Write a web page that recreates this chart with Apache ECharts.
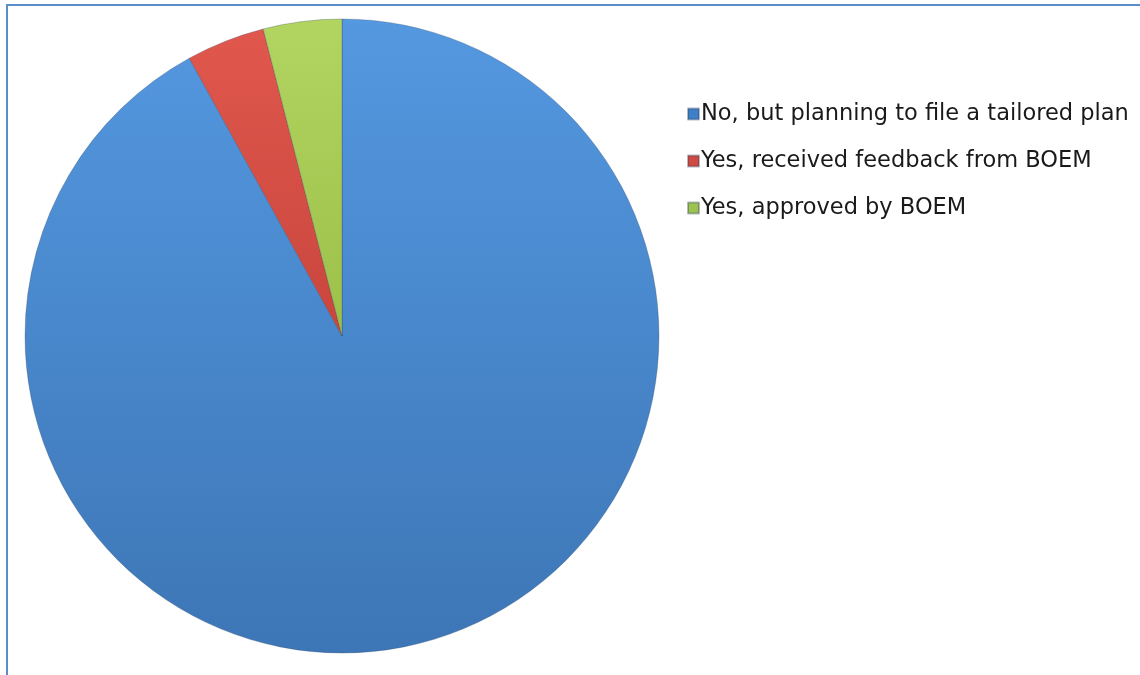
<!DOCTYPE html>
<html>
<head>
<meta charset="utf-8">
<script src="https://cdn.jsdelivr.net/npm/echarts@6/dist/echarts.min.js"></script>
<style>
  html, body { margin: 0; padding: 0; background: #fff; }
  #frame { position: absolute; left: 6px; top: 4px; width: 1140px; height: 680px;
           border-left: 2px solid #5b8ccb; border-top: 2px solid #5b8ccb; }
  #chart { position: absolute; left: 0; top: 0; width: 1140px; height: 675px; }
</style>
</head>
<body>
<div id="frame"></div>
<div id="chart"></div>
<script>
// Survey responses: status of tailored plan filings
const categories = [
  'No, but planning to file a tailored plan',
  'Yes, received feedback from BOEM',
  'Yes, approved by BOEM'
];
const counts = [23, 1, 1];
// top / bottom shades for each slice (gives the soft 3D look)
const topColors = ['#5498e0', '#e0574d', '#b2d460'];
const bottomColors = ['#3d76b6', '#c9463d', '#9cc04a'];
const legendColors = ['#3f7fc8', '#cf4a42', '#9cc24f'];

function grad(i) {
  return new echarts.graphic.LinearGradient(0, 0, 0, 1, [
    { offset: 0, color: topColors[i] },
    { offset: 1, color: bottomColors[i] }
  ]);
}

const chart = echarts.init(document.getElementById('chart'), null, { renderer: 'canvas' });
chart.setOption({
  animation: false,
  backgroundColor: 'transparent',
  legend: {
    orient: 'vertical',
    left: 682,
    top: 97,
    itemWidth: 11,
    itemHeight: 11,
    itemGap: 23,
    icon: 'rect',
    textStyle: { fontFamily: 'DejaVu Sans', fontSize: 22.5, lineHeight: 24, color: '#1a1a1a', padding: [0, 0, 0, -3] },
    data: categories.map((c, i) => ({ name: c, itemStyle: { color: legendColors[i] } }))
  },
  series: [{
    type: 'pie',
    center: [342, 336],
    radius: [0, 317],
    startAngle: 90,
    clockwise: true,
    label: { show: false },
    labelLine: { show: false },
    emphasis: { disabled: true },
    itemStyle: { borderColor: 'rgba(40,60,90,0.35)', borderWidth: 0.8 },
    data: categories.map((c, i) => ({
      name: c,
      value: counts[i],
      itemStyle: { color: grad(i) }
    }))
  }]
});
</script>
</body>
</html>
